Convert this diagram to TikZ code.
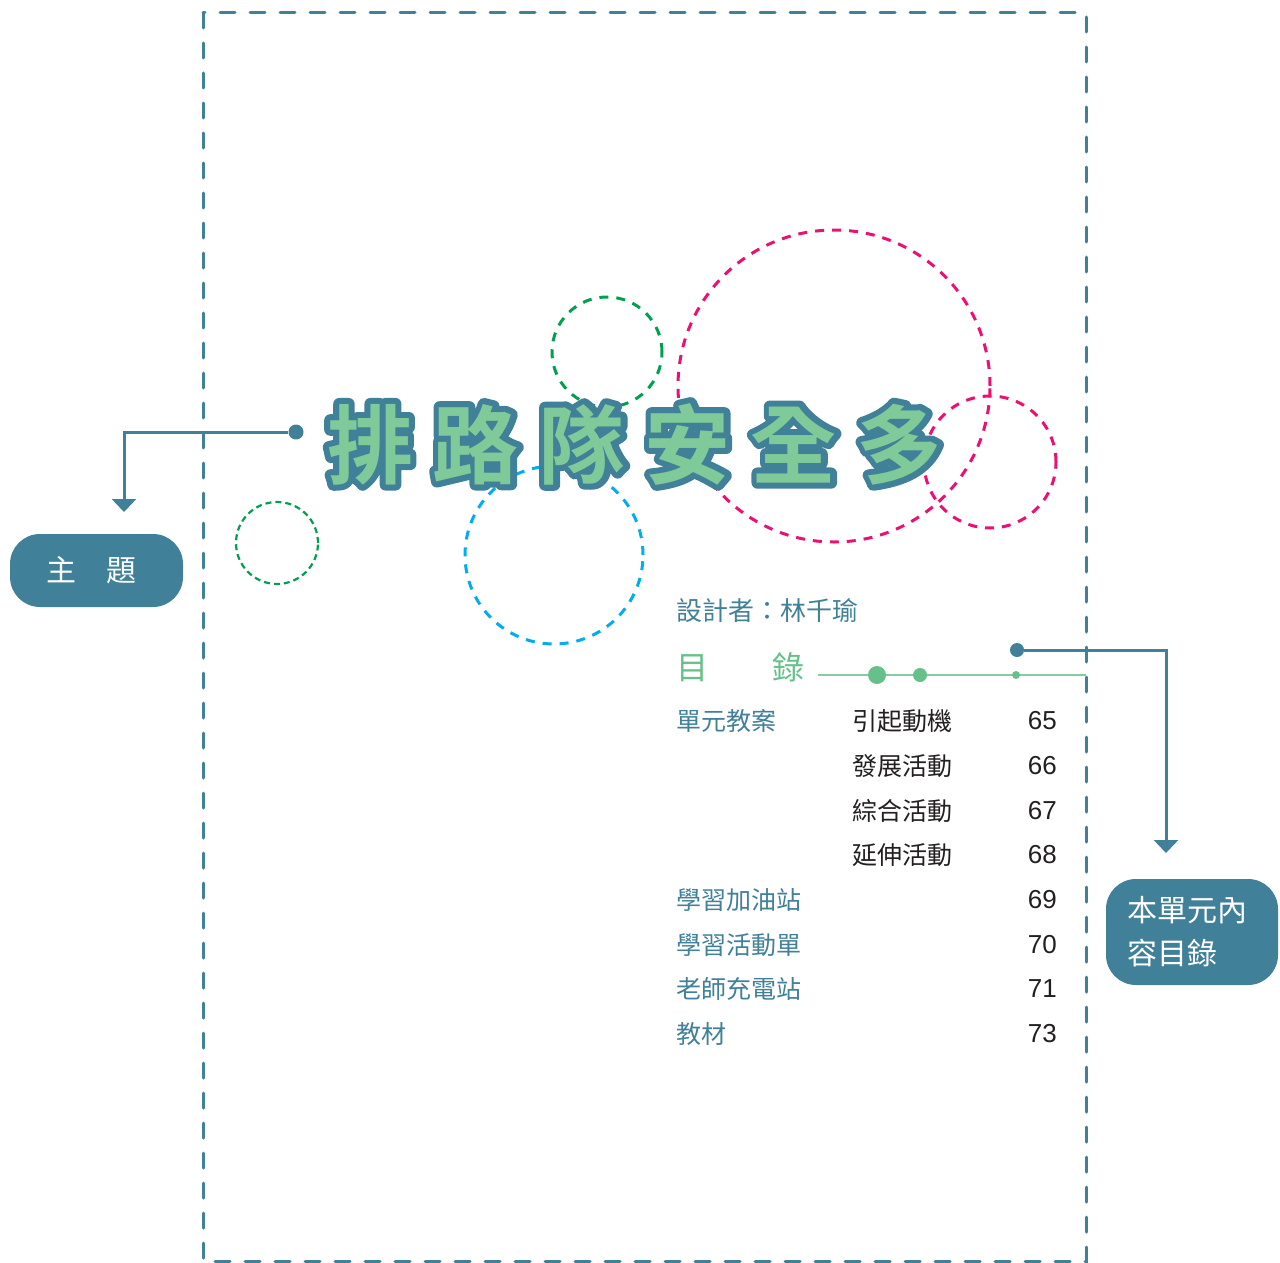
\documentclass[tikz,border=0pt]{standalone}
\usepackage{fontspec}
\setmainfont{Liberation Sans}
\newfontfamily\cjk{Noto Sans CJK TC}
\newfontfamily\titlefont{Noto Sans CJK TC Bold}
\usetikzlibrary{arrows.meta}
\definecolor{teal}{RGB}{64,128,152}
\definecolor{leafgreen}{RGB}{128,201,152}
\definecolor{tocgreen}{RGB}{102,192,138}
\definecolor{ringgreen}{RGB}{0,160,80}
\definecolor{ringpink}{RGB}{234,16,116}
\definecolor{ringblue}{RGB}{0,174,239}
\definecolor{inkdark}{RGB}{35,31,32}
\newcommand{\tch}[1]{\makebox[106pt]{#1}}
% teal rim under the green glyphs
\newcommand{\rimmed}[1]{\rlap{\color{teal}\special{pdf:literal direct 2 Tr 12 w 1 j}#1\special{pdf:literal direct 0 Tr}}#1}
\begin{document}
\begin{tikzpicture}[x=1pt, y=-1pt,
  ring/.style={line width=3pt, dash pattern=on 9pt off 8pt},
  bead/.style={circle, fill=#1, inner sep=0pt},
  link/.style={draw=teal, line width=3pt, -{Triangle[width=24pt,length=13pt]}},
  callout/.style={rounded corners=30pt, fill=teal, text=white, inner sep=0pt,
    font=\cjk\fontsize{30}{43}\selectfont},
  entry/.style={anchor=west, inner sep=0pt, font=\cjk\fontsize{25}{30}\selectfont},
  page/.style={anchor=east, inner sep=0pt, text=inkdark, font=\fontsize{26}{30}\selectfont}]
\useasboundingbox (0,0) rectangle (1280,1263);
% page frame
\draw[teal, line width=3pt, line cap=round, dash pattern=on 15pt off 15pt] (203,13) rectangle (1086,1261);
% rings behind the title
\draw[ring, ringgreen] (607,352) circle[radius=55pt];
\draw[ring, ringpink] (834,386) circle[radius=156pt];
\draw[ring, ringpink] (990,462) circle[radius=66pt];
\draw[ring, ringblue] (554,555) circle[radius=89pt];
\draw[ringgreen, line width=2.2pt, dash pattern=on 6pt off 4pt] (277,543) circle[radius=41pt];
% title
\node[inner sep=0pt, text=leafgreen, font=\titlefont\fontsize{86}{90}\selectfont] (title) at (635,444)
  {\rimmed{\tch{排}\tch{路}\tch{隊}\tch{安}\tch{全}\tch{多}}};
% callout for the title
\node[bead=teal, minimum size=15pt] (titledot) at (296,432) {};
\coordinate (themetip) at (124,512);
\node[callout, minimum width=173pt, minimum height=73pt] (themebox) at (96.5,570.5) {主　題\kern10pt};
\draw[link] (titledot) -| (themetip);
% designer and heading
\node[entry, text=teal, font=\cjk\fontsize{26}{30}\selectfont] (designer) at (676,611) {設計者：林千瑜};
\node[entry, text=tocgreen, font=\cjk\fontsize{32}{36}\selectfont] (tochead) at (676,667) {目　　錄};
\coordinate (linestart) at (818,675);
\coordinate (lineend) at (1086,675);
\draw[tocgreen!80, line width=1.2pt] (linestart) -- (lineend);
\node[bead=tocgreen, minimum size=18pt] (bead1) at (877,675) {};
\node[bead=tocgreen, minimum size=14pt] (bead2) at (920,675) {};
\node[bead=tocgreen, minimum size=8pt] (bead3) at (1016,675) {};
% contents
\node[entry, text=teal] (unit) at (676,721) {單元教案};
\node[entry, text=inkdark] (sub1) at (852,721) {引起動機};
\node[page] (p65) at (1057,721) {65};
\node[entry, text=inkdark] (sub2) at (852,766) {發展活動};
\node[page] (p66) at (1057,766) {66};
\node[entry, text=inkdark] (sub3) at (852,811) {綜合活動};
\node[page] (p67) at (1057,811) {67};
\node[entry, text=inkdark] (sub4) at (852,855) {延伸活動};
\node[page] (p68) at (1057,855) {68};
\node[entry, text=teal] (station) at (676,900) {學習加油站};
\node[page] (p69) at (1057,900) {69};
\node[entry, text=teal] (sheet) at (676,945) {學習活動單};
\node[page] (p70) at (1057,945) {70};
\node[entry, text=teal] (teacher) at (676,989) {老師充電站};
\node[page] (p71) at (1057,989) {71};
\node[entry, text=teal] (material) at (676,1034) {教材};
\node[page] (p73) at (1057,1034) {73};
% callout for the contents
\node[bead=teal, minimum size=14pt] (tocdot) at (1017,650) {};
\coordinate (toctip) at (1166,853);
\node[callout, minimum width=172pt, minimum height=106pt, align=left] (tocbox) at (1192,932) {本單元內\hspace*{10pt}\\容目錄};
\draw[link] (tocdot) -| (toctip);
\end{tikzpicture}
\end{document}
